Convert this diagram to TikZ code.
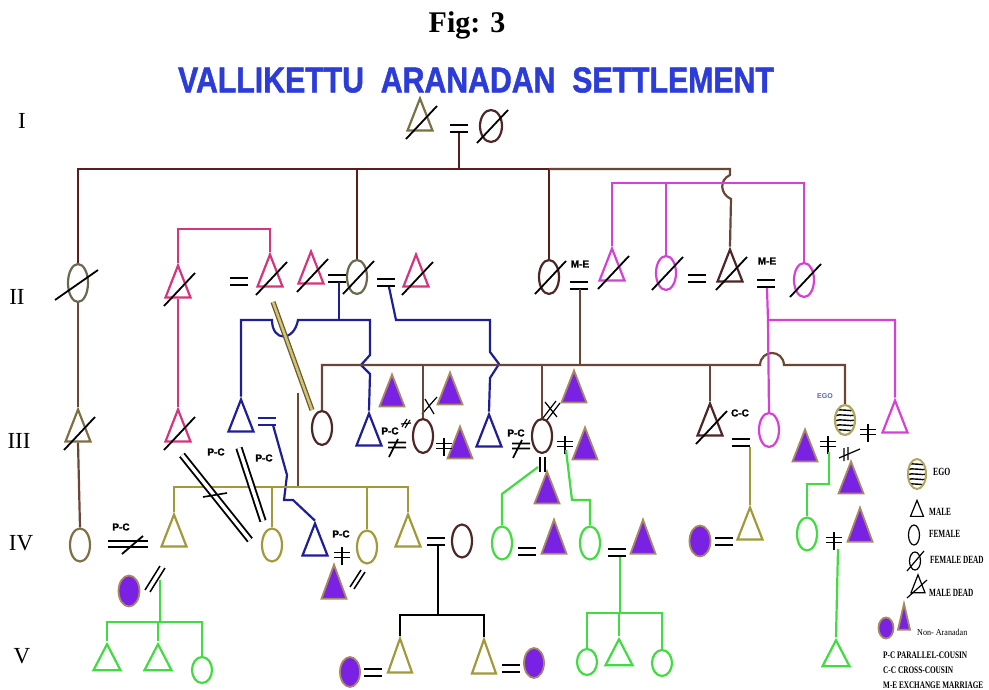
\documentclass[tikz,border=0pt]{standalone}
\usepackage{fontspec}
\usepackage{graphicx}
\setmainfont{Liberation Serif}
\setsansfont{Liberation Sans}
\newfontfamily\heavyfont{Liberation Sans}[FakeBold=1.5]
\usetikzlibrary{shapes.geometric,calc}

\definecolor{lineI}{HTML}{5C1D1D}
\definecolor{brownkin}{HTML}{6B4535}
\definecolor{darkrim}{HTML}{4E2626}
\definecolor{grayrim}{HTML}{6A6850}
\definecolor{olivetri}{HTML}{7D7045}
\definecolor{olivekin}{HTML}{A29A3A}
\definecolor{olivedark}{HTML}{6B5A30}
\definecolor{olivelight}{HTML}{D2C476}
\definecolor{pinkkin}{HTML}{D4357C}
\definecolor{magkin}{HTML}{D640D6}
\definecolor{navykin}{HTML}{1E1E96}
\definecolor{greenkin}{HTML}{40DC40}
\definecolor{purplefill}{HTML}{7A22E4}
\definecolor{tanrim}{HTML}{A8885E}
\definecolor{titleblue}{HTML}{2B3CD8}
\definecolor{egorim}{HTML}{B0A65C}
\definecolor{egoblue}{HTML}{4D68B8}

\tikzstyle{male} = [isosceles triangle, shape border rotate=90, isosceles triangle stretches, minimum width=25pt, minimum height=32pt, inner sep=0pt, draw, line width=2.2pt]
\tikzstyle{female} = [ellipse, minimum width=20pt, minimum height=34pt, inner sep=0pt, draw, line width=2.2pt]
\tikzstyle{slash} = [draw=black, line width=1.8pt]
\tikzstyle{dead} = [append after command={($(\tikzlastnode.center)+(-14,17)$) edge[slash] ($(\tikzlastnode.center)+(17,-16)$)}]
\tikzstyle{outsider} = [fill=purplefill, draw=tanrim, line width=1.8pt]
\tikzstyle{ego} = [ellipse, draw=egorim, fill=white, line width=2.2pt, minimum width=20pt, minimum height=30pt, inner sep=0pt,
  path picture={\foreach \yy in {-9,-4,1,6,11} {\draw[black, line width=1.4pt] ($(path picture bounding box.center)+(-11,\yy)$) .. controls +(7,-3) and +(-7,2) .. +(22,-1);}}]
\tikzstyle{tag} = [font=\heavyfont\bfseries\fontsize{10}{10}\selectfont, inner sep=0pt]
\tikzstyle{gen} = [font=\fontsize{23}{23}\selectfont, inner sep=0pt, anchor=base]
\tikzstyle{key} = [font=\bfseries\fontsize{11}{11}\selectfont, inner sep=0pt, anchor=base west]
\tikzstyle{kinI} = [draw=lineI, line width=2.2pt]
\tikzstyle{kinII} = [draw=brownkin, line width=2.2pt]
\tikzstyle{pinkline} = [draw=pinkkin, line width=2.2pt]
\tikzstyle{magline} = [draw=magkin, line width=2.2pt]
\tikzstyle{navyline} = [draw=navykin, line width=2.2pt]
\tikzstyle{oliveline} = [draw=olivekin, line width=2.2pt]
\tikzstyle{greenline} = [draw=greenkin, line width=2.2pt]
\tikzstyle{blackline} = [draw=black, line width=2.2pt]
\tikzstyle{blackdbl} = [draw=black, double=white, double distance=3.5pt, line width=1.9pt]
\tikzstyle{olivedbl} = [draw=olivedark, double=olivelight, double distance=2.5pt, line width=1.3pt]

\tikzset{
  wed/.pic={\draw[line width=2pt] (-9,-3.5) -- (9,-3.5) (-9,3.5) -- (9,3.5);},
  split/.pic={\draw[line width=1.8pt] (-8,-2.5) -- (8,-2.5) (-8,2.5) -- (8,2.5) (0,-8) -- (0,10);},
  nowed/.pic={\draw[line width=1.6pt] (-9,-2.5) -- (9,-2.5) (-9,2.5) -- (9,2.5) (-8,12) -- (1,-6);}
}

\begin{document}
\begin{tikzpicture}[x=1pt,y=-1pt]
\useasboundingbox (0,0) rectangle (989,690);

% titles
\node[font=\bfseries\fontsize{30}{30}\selectfont, anchor=base, inner sep=0pt] (fig) at (467,33) {Fig: 3};
\node[font=\heavyfont\bfseries\fontsize{36}{36}\selectfont, text=titleblue, inner sep=0pt] (title) at (476,80) {\scalebox{0.84}[1]{VALLIKETTU\ \ ARANADAN\ \ SETTLEMENT}};
\foreach \pos/\name/\txt in {{(22,129)/labI/I}, {(17,305)/labII/II}, {(19,448)/labIII/III}, {(21,550)/labIV/IV}, {(22,663)/labV/V}}
  \node[gen] (\name) at \pos {\txt};

% generation I
\node[male, dead, draw=olivetri] (Ia) at (420,122) {};
\node[female, dead, draw=darkrim, minimum width=22pt, minimum height=32pt] (Ib) at (491,126) {};
\pic at (459,129) {wed};

% generation II
\foreach \pos/\name/\col in {{(178,289)/IIb/pinkkin}, {(270,278)/IIc/pinkkin}, {(311,275)/IId/pinkkin}, {(416,278)/IIf/pinkkin}, {(612,272)/IIh/magkin}, {(730,273)/IIj/darkrim}}
  \node[male, dead, draw=\col] (\name) at \pos {};
\foreach \pos/\name/\col in {{(357,277)/IIe/grayrim}, {(549,277)/IIg/darkrim}, {(666,273)/IIi/magkin}, {(804,280)/IIk/magkin}}
  \node[female, dead, draw=\col] (\name) at \pos {};
\node[female, draw=grayrim, minimum height=38pt] (IIa) at (78,283) {};
\draw[slash] ($(IIa)+(-23,17)$) -- ($(IIa)+(20,-13)$);
\foreach \pos in {{(239,281)}, {(337,278)}, {(386,282)}, {(579,285)}, {(697,278)}, {(766,283)}}
  \pic at \pos {wed};
\node[tag] (me1) at (580,264) {M-E};
\node[tag] (me2) at (767,261) {M-E};

% generation III
\foreach \pos/\name/\col in {{(78,433)/IIIa/olivetri}, {(178,433)/IIIb/pinkkin}, {(710,427)/IIIi/darkrim}}
  \node[male, dead, draw=\col] (\name) at \pos {};
\foreach \pos/\name/\col in {{(241,423)/IIIc/navykin}, {(369,437)/IIIe/navykin}, {(489,438)/IIIg/navykin}, {(895,424)/IIIl/magkin}}
  \node[male, draw=\col] (\name) at \pos {};
\foreach \pos/\name/\col in {{(322,428)/IIId/darkrim}, {(423,436)/IIIf/darkrim}, {(542,436)/IIIh/darkrim}, {(769,430)/IIIj/magkin}}
  \node[female, draw=\col] (\name) at \pos {};
\node[ego] (IIIk) at (845,420) {};
\node[font=\sffamily\bfseries\fontsize{7}{7}\selectfont, text=egoblue, inner sep=0pt] (tEgo) at (825,396) {EGO};
\foreach \pos/\name in {{(392,398)/IIIp1}, {(450,396)/IIIp2}, {(460,450)/IIIp3}, {(574,394)/IIIp4}, {(585,451)/IIIp5}, {(547,495)/IIIp6}, {(805,453)/IIIp7}, {(851,485)/IIIp8}}
  \node[male, outsider] (\name) at \pos {};
\pic[color=navykin] at (267,421) {wed};
\pic at (741,442) {wed};
\foreach \pos in {{(444,446)}, {(565,444)}, {(868,432)}, {(828,444)}}
  \pic at \pos {split};
\pic at (397,445) {nowed};
\pic at (521,446) {nowed};
\node[tag] (pc1) at (390,431) {P-C};
\node[tag] (pc2) at (516,433) {P-C};
\node[tag] (pc3) at (216,452) {P-C};
\node[tag] (pc4) at (264,458) {P-C};
\node[tag] (cc1) at (740,413) {C-C};
\draw[slash, line width=1.2pt] (422,414) -- (437,397) (425,399) -- (434,414);
\draw[slash, line width=1.2pt] (543,418) -- (556,401) (547,420) -- (560,403) (545,402) -- (557,417);
\draw[slash, line width=1.1pt] (402,427) -- (407,419) (405,428) -- (410,420) (401,424) -- (411,423);
\draw[slash, line width=1.2pt] (844,448) -- (844,461) (848,447) -- (848,460) (839,458) -- (860,449);
\draw[slash, line width=1.3pt] (540,457) -- (540,472) (545,457) -- (545,472);

% generation IV
\foreach \pos/\name/\col in {{(174,538)/IVb/olivekin}, {(315,547)/IVd/navykin}, {(408,538)/IVf/olivekin}, {(750,531)/IVj/olivekin}}
  \node[male, draw=\col] (\name) at \pos {};
\foreach \pos/\name/\col in {{(80,545)/IVa/olivetri}, {(272,545)/IVc/olivekin}, {(367,547)/IVe/olivekin}, {(462,541)/IVg/darkrim}, {(502,543)/IVh/greenkin}, {(590,543)/IVi/greenkin}, {(807,534)/IVk/greenkin}}
  \node[female, draw=\col, minimum height=33pt] (\name) at \pos {};
\foreach \pos/\name in {{(334,590)/IVp2}, {(554,545)/IVp3}, {(643,545)/IVp4}, {(860,533)/IVp6}}
  \node[male, outsider, minimum height=34pt] (\name) at \pos {};
\foreach \pos/\name in {{(129,591)/IVp1}, {(700,541)/IVp5}}
  \node[female, outsider, minimum width=21pt, minimum height=31pt] (\name) at \pos {};
\node[tag] (pc5) at (121,527) {P-C};
\node[tag] (pc6) at (341,534) {P-C};
\draw[line width=2.6pt] (108,541) -- (148,541) (108,547) -- (148,547);
\draw[slash] (122,554) -- (143,536);
\pic at (342,555) {split};
\pic at (834,540) {split};
\foreach \pos in {{(436,541)}, {(527,551)}, {(617,552)}, {(724,541)}}
  \pic at \pos {wed};
\draw[slash, line width=1.5pt] (145,590) -- (160,566) (150,592) -- (165,568);
\draw[slash, line width=1.5pt] (350,587) -- (361,570) (354,589) -- (365,572);

% generation V
\foreach \pos/\name/\col in {{(107,662)/Va/greenkin}, {(158,662)/Vb/greenkin}, {(619,657)/Vg/greenkin}, {(836,658)/Vi/greenkin}}
  \node[male, draw=\col, minimum width=27pt, minimum height=26pt] (\name) at \pos {};
\foreach \pos/\name in {{(400,664)/Vd}, {(484,665)/Ve}}
  \node[male, draw=olivekin, minimum width=24pt, minimum height=34pt] (\name) at \pos {};
\foreach \pos/\name in {{(202,670)/Vc}, {(587,662)/Vf}, {(662,663)/Vh}}
  \node[female, draw=greenkin, minimum height=26pt] (\name) at \pos {};
\foreach \pos/\name in {{(350,672)/Vp1}, {(534,663)/Vp2}}
  \node[female, outsider, minimum width=20pt, minimum height=30pt] (\name) at \pos {};
\pic at (373,672) {wed};
\pic at (511,668) {wed};

% descent and marriage lines
\coordinate (Iw) at (459,133);
\coordinate (gI) at (459,169);
\draw[kinI] (IIa.north) |- (gI) -| (IIg.north);
\draw[kinI] (Iw) -- (gI);
\draw[kinI] (IIe.north) -- (IIe.north |- gI);
\draw[kinII] (IIg.north |- gI) -- (730,169) -- (730,175) .. controls (719,180) and (720,194) .. (731,199) -- (IIj.north);
\coordinate (mg) at (700,183);
\draw[magline] (IIh.north) |- (mg) -| (IIk.north);
\draw[magline] (IIi.north) -- (IIi.north |- mg);
\coordinate (pk) at (220,229);
\draw[pinkline] (IIb.north) |- (pk) -| (IIc.north);
\draw[pinkline] (IIb.south) -- (IIIb.north);
\draw[kinII] (IIa.south) -- (IIIa.north);
\draw[kinII] (IIIa.south) -- (IVa.north);

\coordinate (bw) at (339,282);
\draw[navyline] (bw) -- (339,320);
\draw[navyline] (IIIc.north) |- (272,320) .. controls (272,342) and (294,342) .. (298,320) -- (370,320) -- (370,355) -- (361,365) -- (370,374) -- (IIIe.north);
\coordinate (bw2) at (389,287);
\draw[navyline] (bw2) -- (396,320) -- (490,320) -- (490,352) -- (499,364) -- (490,378) -- (IIIg.north);
\coordinate (bw3) at (273,425);
\draw[navyline] (bw3) -- (287,475) -- (284,500) -- (293,500) -- (IVd.north);

\draw[olivedbl] (273,302) -- (312,410);
\coordinate (b3) at (580,365);
\draw[kinII] (IIId.north) |- (b3) -- (760,365) .. controls (761,349) and (783,349) .. (784,365) -| (IIIk.north);
\foreach \name in {IIIf, IIIh, IIIi}
  \draw[kinII] (\name.north) -- (\name.north |- b3);
\draw[kinII] (580,289) -- (b3);
\coordinate (ol) at (298,487);
\draw[kinII] (298,393) -- (ol);
\draw[oliveline] (IVb.north) |- (ol) -| (IVf.north);
\draw[oliveline] (IVc.north) -- (IVc.north |- ol);
\draw[oliveline] (IVe.north) -- (IVe.north |- ol);

\coordinate (m3) at (768,320);
\draw[magline] (767,288) -- (m3) -| (IIIl.north);
\draw[magline] (m3) -- (IIIj.north);
\draw[oliveline] (750,447) -- (IVj.north);
\draw[greenline] (829,452) -- (829,484) -| (IVk.north);
\draw[greenline] (838,549) -- (Vi.north);
\draw[greenline] (538,467) -- (502,494) -- (IVh.north);
\draw[greenline] (566,450) -- (572,500) -| (IVi.north);

\draw[blackdbl] (182,455) -- (250,540);
\draw[slash, line width=1.6pt] (203,497) -- (227,493);
\draw[blackdbl] (239,448) -- (263,521);

\coordinate (g5) at (620,613);
\draw[greenline] (620,557) -- (g5);
\draw[greenline] (Vf.north) |- (g5) -| (Vh.north);
\draw[greenline] (Vg.north) -- (Vg.north |- g5);
\coordinate (k5) at (438,615);
\draw[blackline] (438,545) -- (k5);
\draw[blackline] (Vd.north) |- (k5) -| (Ve.north);
\coordinate (g4) at (160,622);
\draw[greenline] (160,580) -- (g4);
\draw[greenline] (Va.north) |- (g4) -| (Vc.north);
\draw[greenline] (Vb.north) -- (Vb.north |- g4);

% key
\node[ego, minimum width=18pt, minimum height=30pt, line width=2pt] (kEgo) at (917,474) {};
\node[key] (tkEgo) at (933,475) {\scalebox{0.7}[1]{EGO}};
\node[male, draw=black, line width=1.2pt, minimum width=13pt, minimum height=16pt] (kMale) at (917,512) {};
\node[key] (tMale) at (929,515) {\scalebox{0.66}[1]{MALE}};
\node[female, draw=black, line width=1.2pt, minimum width=11pt, minimum height=20pt] (kFemale) at (914,535) {};
\node[key] (tFemale) at (929,537) {\scalebox{0.66}[1]{FEMALE}};
\node[female, draw=black, line width=1.2pt, minimum width=11pt, minimum height=18pt] (kFdead) at (915,561) {};
\draw[slash, line width=1.2pt] ($(kFdead)+(-8,10)$) -- ($(kFdead)+(9,-10)$);
\node[key] (tFdead) at (930,563) {\scalebox{0.66}[1]{FEMALE DEAD}};
\node[male, draw=black, line width=1.2pt, minimum width=14pt, minimum height=18pt] (kMdead) at (918,588) {};
\draw[slash, line width=1.2pt] ($(kMdead)+(-11,10)$) -- ($(kMdead)+(9,-8)$);
\node[key] (tMdead) at (929,596) {\scalebox{0.66}[1]{MALE DEAD}};
\node[female, outsider, minimum width=15pt, minimum height=21pt] (kOc) at (886,628) {};
\node[male, outsider, minimum width=12pt, minimum height=26pt] (kOt) at (904,625) {};
\node[key, font=\fontsize{9}{9}\selectfont] (tOut) at (917,635) {\scalebox{0.9}[1]{Non- Aranadan}};
\node[key, font=\bfseries\fontsize{10}{10}\selectfont] (tPC) at (883,658) {\scalebox{0.73}[1]{P-C PARALLEL-COUSIN}};
\node[key, font=\bfseries\fontsize{10}{10}\selectfont] (tCC) at (883,673) {\scalebox{0.73}[1]{C-C CROSS-COUSIN}};
\node[key, font=\bfseries\fontsize{10}{10}\selectfont] (tME) at (883,688) {\scalebox{0.72}[1]{M-E EXCHANGE MARRIAGE}};
\end{tikzpicture}
\end{document}
